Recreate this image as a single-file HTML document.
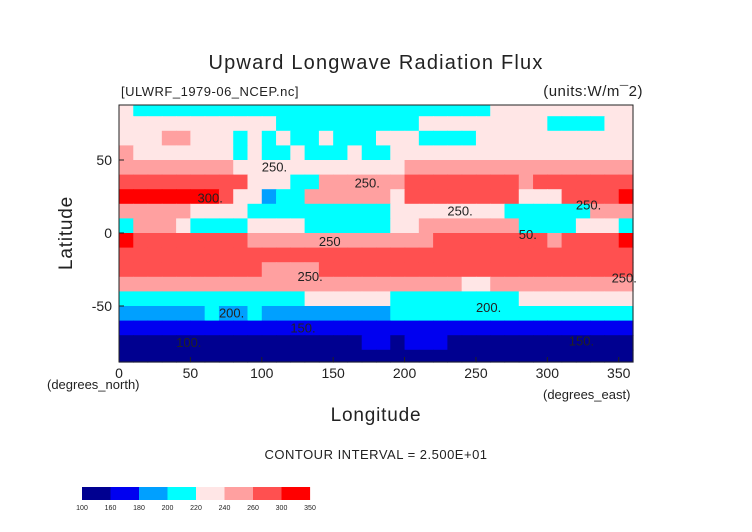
<!DOCTYPE html>
<html><head><meta charset="utf-8"><style>
body{margin:0;background:#fff;}
svg{display:block;font-family:"Liberation Sans",sans-serif;}
</style></head><body>
<svg id="chart" width="752" height="532" viewBox="0 0 752 532">
<rect width="752" height="532" fill="#fff"/>
<text x="376" y="69" font-size="20" text-anchor="middle" fill="#222" letter-spacing="1.2">Upward Longwave Radiation Flux</text>
<text x="121" y="96" font-size="13" fill="#222" letter-spacing="0.5">[ULWRF_1979-06_NCEP.nc]</text>
<text x="643" y="96" font-size="15" text-anchor="end" fill="#222" letter-spacing="0.5">(units:W/m¯2)</text>
<g id="cells"></g>
<g id="clabels"></g>
<rect x="119" y="105" width="514" height="257" fill="none" stroke="#222" stroke-width="1"/>
<g id="axes"></g>
<text x="47" y="389" font-size="13" fill="#222">(degrees_north)</text>
<text x="543" y="399" font-size="13" fill="#222">(degrees_east)</text>
<text x="376" y="421" font-size="19" text-anchor="middle" fill="#222" letter-spacing="0.8">Longitude</text>
<text transform="translate(72,233) rotate(-90)" font-size="19" text-anchor="middle" fill="#222" letter-spacing="0.8">Latitude</text>
<text x="376" y="459" font-size="13" text-anchor="middle" fill="#222" letter-spacing="0.5">CONTOUR INTERVAL = 2.500E+01</text>
<g id="cbar"></g>
</svg>
<script>
const lonStart = [0,10,20,30,40,50,60,70,80,90,100,110,120,130,140,150,160,170,180,190,200,210,220,230,240,250,260,270,280,290,300,310,320,330,340,350];
const latTop = [90,80,70,60,50,40,30,20,10,0,-10,-20,-30,-40,-50,-60,-70,-80];
function rep(v,n){return Array(n).fill(v);}
const r0=[230,...rep(210,25),...rep(230,10)];
const r1=[225,225,...rep(230,9),...rep(210,10),...rep(230,9),...rep(210,4),230,230];
const r2=[...rep(230,3),245,245,...rep(230,3),215,230,215,230,215,215,230,215,215,215,230,230,230,...rep(210,4),...rep(230,11)];
const r3=[240,...rep(235,7),215,230,215,215,230,215,215,215,230,215,215,...rep(230,17)];
const r4=[...rep(255,8),...rep(230,10),235,235,...rep(250,9),240,...rep(250,6)];
const r5=[...rep(290,8),260,220,220,220,215,215,...rep(255,5),240,...rep(270,8),250,...rep(265,7)];
const r6=[...rep(305,7),265,235,235,195,200,215,...rep(255,6),235,...rep(265,8),235,235,235,270,270,270,270,300];
const r7=[...rep(250,5),...rep(235,4),...rep(215,10),...rep(235,8),...rep(215,6),240,240,240];
const r8=[205,250,250,250,235,215,215,215,215,230,230,230,230,...rep(215,6),235,235,...rep(255,7),215,215,215,215,235,235,235,215];
const r9=[300,...rep(270,8),...rep(245,10),255,255,255,...rep(270,8),250,270,270,270,270,300];
const r10=[270,270,270,270,290,...rep(270,31)];
const r11=[...rep(265,10),250,250,250,250,...rep(265,22)];
const r12=[...rep(240,24),225,225,...rep(240,10)];
const r13=[...rep(212,13),...rep(225,6),...rep(215,9),...rep(225,8)];
const r14=[...rep(198,6),210,198,198,210,...rep(198,9),...rep(210,17)];
const r15=rep(165,36);
const r16=[...rep(145,17),170,170,145,165,165,165,...rep(145,13)];
const r17=rep(120,36);
const rows=[r0,r1,r2,r3,r4,r5,r6,r7,r8,r9,r10,r11,r12,r13,r14,r15,r16,r17];
const levels=[160,180,200,220,240,260,300];
const colors=["#000090","#0000f0","#00a0ff","#00ffff","#ffe6e6","#ffa0a0","#ff5050","#ff0000"];
const cbarLabels=["100","160","180","200","220","240","260","300","350"];
const xTicks=[0,50,100,150,200,250,300,350];
const yTicks=[50,0,-50];
const cLabelText=["250.","300.","250.","250.","250.","250","50.","250.","250.","200.","200.","150.","150.","100."];
const cLabelLon=[100,55,165,230,320,140,280,125,345,70,250,120,315,40];
const cLabelLat=[42,21,31,12,16,-9,-4,-33,-34,-58,-54,-68,-77,-78];
const PX0=119,PX1=633,PY0=105,PY1=362;
const xs=lon=>PX0+lon*(514/360);
const ys=lat=>233-lat*1.46;
function col(v){let i=0;while(i<levels.length&&v>=levels[i])i++;return colors[i];}
const NS="http://www.w3.org/2000/svg";
const cells=document.getElementById('cells');
rows.forEach((row,ri)=>{
  const y0=Math.max(PY0,ys(latTop[ri])),y1=Math.min(PY1,ys(latTop[ri]-10));
  row.forEach((v,ci)=>{
    const r=document.createElementNS(NS,'rect');
    
    
    const x0=xs(lonStart[ci]),x1=xs(lonStart[ci]+10);
    r.setAttribute('x',x0);r.setAttribute('y',y0);
    r.setAttribute('width',x1-x0+0.6);r.setAttribute('height',y1-y0+0.6);
    r.setAttribute('fill',col(v));
    cells.appendChild(r);
  });
});
const cl=document.getElementById('clabels');
cLabelText.forEach((t,i)=>{
  const e=document.createElementNS(NS,'text');
  
  
  e.setAttribute('x',xs(cLabelLon[i]));e.setAttribute('y',ys(cLabelLat[i]));
  e.setAttribute('font-size','13');e.setAttribute('fill','#222');
  e.textContent=t;cl.appendChild(e);
});
const ax=document.getElementById('axes');
xTicks.forEach(t=>{
  const l=document.createElementNS(NS,'line');
  
  
  l.setAttribute('x1',xs(t));l.setAttribute('x2',xs(t));l.setAttribute('y1',PY1);l.setAttribute('y2',PY1-5);l.setAttribute('stroke','#222');ax.appendChild(l);
  const e=document.createElementNS(NS,'text');
  
  
  e.setAttribute('x',xs(t));e.setAttribute('y',378);e.setAttribute('font-size','14');e.setAttribute('text-anchor','middle');e.setAttribute('fill','#222');
  e.textContent=t;ax.appendChild(e);
});
yTicks.forEach(t=>{
  const l=document.createElementNS(NS,'line');
  
  
  l.setAttribute('x1',PX0);l.setAttribute('x2',PX0+5);l.setAttribute('y1',ys(t));l.setAttribute('y2',ys(t));l.setAttribute('stroke','#222');ax.appendChild(l);
  const e=document.createElementNS(NS,'text');
  
  
  e.setAttribute('x',112);e.setAttribute('y',ys(t)+5);e.setAttribute('font-size','14');e.setAttribute('text-anchor','end');e.setAttribute('fill','#222');
  e.textContent=t;ax.appendChild(e);
});
const cb=document.getElementById('cbar');
colors.forEach((c,i)=>{
  const r=document.createElementNS(NS,'rect');
  
  
  r.setAttribute('x',82+i*28.5);r.setAttribute('y',487);r.setAttribute('width',28.6);r.setAttribute('height',13);r.setAttribute('fill',c);
  cb.appendChild(r);
});
cbarLabels.forEach((t,i)=>{
  const e=document.createElementNS(NS,'text');
  
  
  e.setAttribute('x',82+i*28.5);e.setAttribute('y',510);e.setAttribute('font-size','7');e.setAttribute('text-anchor','middle');e.setAttribute('fill','#222');
  e.textContent=t;cb.appendChild(e);
});
</script>
</body></html>
